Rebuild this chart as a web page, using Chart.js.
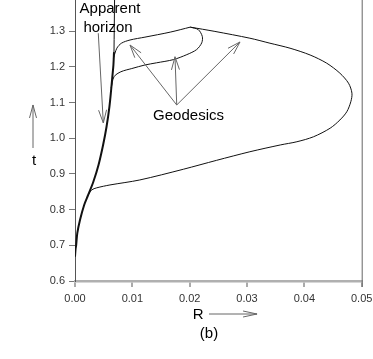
<!DOCTYPE html>
<html>
<head>
<meta charset="utf-8">
<script src="https://cdn.jsdelivr.net/npm/chart.js@4/dist/chart.umd.min.js"></script>
<style>
  body { margin: 0; background: #fff; }
  canvas { display: block; }
</style>
</head>
<body>
<canvas id="chart" width="373" height="359"></canvas>
<script>
// Apparent horizon (thick part, then thin continuation to the top)
const horizonR = [0, 0.0001, 0.0002, 0.0004, 0.00087, 0.0016, 0.0023, 0.0032, 0.0041, 0.0049, 0.0055, 0.006, 0.0063, 0.0065, 0.0067, 0.0068];
const horizonT = [0.668, 0.69, 0.70, 0.734, 0.771, 0.813, 0.841, 0.878, 0.925, 0.981, 1.032, 1.088, 1.135, 1.17, 1.205, 1.241];
const horizonTopR = [0.0068, 0.0069];
const horizonTopT = [1.241, 1.387];

// Geodesics
const geoOuterR = [0.0023, 0.0029, 0.0038, 0.0061, 0.0113, 0.0189, 0.0247, 0.0305, 0.0358, 0.0387, 0.0416, 0.0445, 0.0462, 0.0474, 0.0481, 0.0483, 0.0477, 0.0462, 0.0439, 0.041, 0.0375, 0.034, 0.0305, 0.0244, 0.0201];
const geoOuterT = [0.841, 0.855, 0.861, 0.869, 0.883, 0.913, 0.938, 0.962, 0.981, 0.99, 1.004, 1.028, 1.051, 1.074, 1.102, 1.126, 1.154, 1.182, 1.21, 1.233, 1.252, 1.266, 1.28, 1.299, 1.311];
const geoMiddleR = [0.0063, 0.0068, 0.008, 0.0099, 0.0122, 0.0142, 0.01715, 0.0195, 0.0212, 0.0221, 0.0222, 0.0215, 0.0201];
const geoMiddleT = [1.14, 1.172, 1.186, 1.195, 1.205, 1.211, 1.22, 1.234, 1.248, 1.267, 1.285, 1.304, 1.311];
const geoUpperR = [0.0067, 0.0073, 0.0081, 0.0096, 0.0122, 0.0166, 0.0201];
const geoUpperT = [1.224, 1.252, 1.266, 1.275, 1.283, 1.297, 1.311];

// Axes
const xTicks = [0, 0.01, 0.02, 0.03, 0.04, 0.05];
const yTicks = [0.6, 0.7, 0.8, 0.9, 1.0, 1.1, 1.2, 1.3];
const xMin = 0, xMax = 0.05;
const yMin = 0.6, yMax = 1.387;

const FONT = '"Liberation Sans", Arial, Helvetica, sans-serif';

function toPoints(rs, ts) {
    return rs.map((r, i) => ({ x: r, y: ts[i] }));
}

function line(rs, ts, width) {
    return {
        data: toPoints(rs, ts),
        showLine: true,
        borderColor: '#111',
        borderWidth: width,
        pointRadius: 0,
        tension: 0.3,
        fill: false
    };
}

function drawArrow(ctx, x1, y1, x2, y2, len, half) {
    const a = Math.atan2(y2 - y1, x2 - x1);
    ctx.beginPath();
    ctx.moveTo(x1, y1);
    ctx.lineTo(x2, y2);
    ctx.moveTo(x2 - len * Math.cos(a) + half * Math.sin(a), y2 - len * Math.sin(a) - half * Math.cos(a));
    ctx.lineTo(x2, y2);
    ctx.lineTo(x2 - len * Math.cos(a) - half * Math.sin(a), y2 - len * Math.sin(a) + half * Math.cos(a));
    ctx.stroke();
}

// Labels and arrows, in data units where they sit inside the plot
const annotations = {
    id: 'annotations',
    afterDatasetsDraw(chart) {
        const { ctx, chartArea, scales } = chart;
        const px = v => scales.x.getPixelForValue(v);
        const py = v => scales.y.getPixelForValue(v);
        ctx.save();

        // right frame line
        ctx.strokeStyle = '#666';
        ctx.lineWidth = 1;
        ctx.beginPath();
        ctx.moveTo(chartArea.right + 0.5, chartArea.top);
        ctx.lineTo(chartArea.right + 0.5, chartArea.bottom + 6);
        ctx.stroke();

        ctx.strokeStyle = '#666';
        ctx.lineWidth = 1;
        // Apparent horizon arrow
        drawArrow(ctx, px(0.00406), py(1.294), px(0.00494), py(1.0426), 13, 4);
        // Geodesics arrows
        const ox = px(0.01774), oy = py(1.093);
        drawArrow(ctx, ox, oy, px(0.00959), py(1.261), 13, 4);
        drawArrow(ctx, ox, oy, px(0.01744), py(1.228), 13, 4);
        drawArrow(ctx, ox, oy, px(0.02878), py(1.2695), 13, 4);
        // axis name arrows
        drawArrow(ctx, chartArea.left - 42, py(0.9725), chartArea.left - 42, py(1.093), 13, 3.5);
        drawArrow(ctx, px(0.02337), chartArea.bottom + 33, px(0.03175), chartArea.bottom + 33, 14, 3);

        ctx.fillStyle = '#000';
        ctx.font = '15px ' + FONT;
        ctx.textAlign = 'center';
        ctx.textBaseline = 'middle';
        ctx.fillText('Apparent', px(0.0061), py(1.362));
        ctx.fillText('horizon', px(0.00576), py(1.310));
        ctx.fillText('Geodesics', px(0.0198), py(1.0636));
        ctx.fillText('t', chartArea.left - 41, py(0.9365));
        ctx.fillText('R', px(0.02146), chartArea.bottom + 34);
        ctx.fillText('(b)', px(0.02337), chartArea.bottom + 53);
        ctx.restore();
    }
};

new Chart(document.getElementById('chart').getContext('2d'), {
    type: 'scatter',
    data: {
        datasets: [
            line(horizonR, horizonT, 2),
            line(horizonTopR, horizonTopT, 1),
            line(geoOuterR, geoOuterT, 1),
            line(geoMiddleR, geoMiddleT, 1),
            line(geoUpperR, geoUpperT, 1)
        ]
    },
    options: {
        responsive: false,
        animation: false,
        devicePixelRatio: 1,
        layout: { padding: { top: 0, right: 11.3, bottom: 0, left: 0 } },
        plugins: { legend: { display: false }, tooltip: { enabled: false } },
        scales: {
            x: {
                type: 'linear',
                min: xMin,
                max: xMax,
                afterBuildTicks: s => { s.ticks = xTicks.map(v => ({ value: v })); },
                afterFit: s => { s.height = 78; s.paddingLeft = 0; s.paddingRight = 0; },
                ticks: {
                    callback: v => v.toFixed(2),
                    color: '#333',
                    font: { family: FONT, size: 11 },
                    padding: 5,
                    maxRotation: 0
                },
                grid: { drawOnChartArea: false, drawTicks: true, tickLength: 6, color: '#aaa', lineWidth: 2 },
                border: { display: true, color: '#b0b0b0', width: 2.5 }
            },
            y: {
                type: 'linear',
                min: yMin,
                max: yMax,
                afterBuildTicks: s => { s.ticks = yTicks.map(v => ({ value: v })); },
                afterFit: s => { s.width = 75; s.paddingTop = 0; s.paddingBottom = 0; },
                ticks: {
                    callback: v => v.toFixed(1),
                    color: '#333',
                    font: { family: FONT, size: 11 },
                    padding: 4
                },
                grid: { drawOnChartArea: false, drawTicks: true, tickLength: 6, color: '#777', lineWidth: 1 },
                border: { display: true, color: '#555', width: 1 }
            }
        }
    },
    plugins: [annotations]
});
</script>
</body>
</html>
